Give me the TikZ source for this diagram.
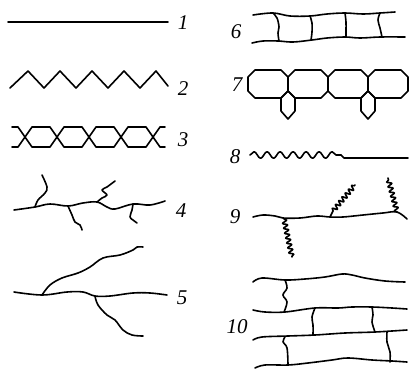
\documentclass[tikz,border=0pt]{standalone}
\usepackage{fontspec}
\setmainfont{Liberation Serif}
\usetikzlibrary{decorations.pathmorphing}
\begin{document}
\begin{tikzpicture}[x=1pt,y=-1pt,
  ln/.style={line width=1.6pt,line join=round,line cap=round},
  sm/.style={ln,smooth,tension=0.6},
  lab/.style={font=\fontsize{21}{21}\selectfont\itshape,inner sep=0pt},
  snk/.style={ln,decorate,decoration={snake,segment length=5pt,amplitude=2.3pt}},
  wav/.style={ln,decorate,decoration={snake,segment length=13pt,amplitude=3.3pt}}]
\useasboundingbox (0,0) rectangle (410,370);
% 1
\draw[ln] (8,22) -- (168,22);
\node[lab] (l1) at (183,23) {1};
% 2
\draw[ln] (10,88) -- (28,71) -- (44,88) -- (60,71) -- (76,88) -- (92,71) -- (108,88) -- (124,71) -- (140,88) -- (156,71) -- (168,86);
\node[lab] (l2) at (183,89) {2};
% 3
\draw[ln] (12,127) -- (18,127) -- (32,147) -- (50,147) -- (64,127) -- (82,127) -- (96,147) -- (114,147) -- (128,127) -- (146,127) -- (160,147) -- (165,147);
\draw[ln] (12,147) -- (18,147) -- (32,127) -- (50,127) -- (64,147) -- (82,147) -- (96,127) -- (114,127) -- (128,147) -- (146,147) -- (160,127) -- (165,127);
\node[lab] (l3) at (183,140) {3};
% 4
\draw[sm] plot coordinates {(14,210) (35,207) (50,204) (68,206) (83,203) (97,202) (107,207) (115,209) (133,204) (150,205) (165,201)};
\draw[sm] plot coordinates {(35,207) (38,200) (45,193) (47,187) (42,175)};
\draw[sm] plot coordinates {(68,206) (72,215) (75,222) (80,225) (82,230)};
\draw[sm] plot coordinates {(97,202) (102,198) (107,195) (102,190) (107,187) (115,181)};
\draw[sm] plot coordinates {(133,204) (132,210) (130,217) (133,220) (137,223)};
\node[lab] (l4) at (181,211) {4};
% 5
\draw[sm] plot coordinates {(14,292) (42,295) (67,292) (83,292) (95,296) (110,296) (133,293) (150,293) (167,295)};
\draw[sm] plot coordinates {(42,295) (50,285) (62,278) (78,273) (90,267) (103,258) (120,255) (133,250) (137,247) (143,247)};
\draw[sm] plot coordinates {(95,296) (98,305) (107,315) (115,320) (123,330) (132,335) (143,336)};
\node[lab] (l5) at (182,298) {5};
% 6
\draw[sm] plot coordinates {(253,15) (273,13) (290,16) (310,16) (327,14) (345,13) (363,14) (380,13) (395,12)};
\draw[sm] plot coordinates {(252,43) (263,41) (278,41) (293,42) (312,40) (327,38) (345,37) (360,38) (380,37) (405,37)};
\draw[sm] plot coordinates {(273,13) (277,18) (279,27) (278,33) (279,41)};
\draw[sm] plot coordinates {(310,16) (312,23) (312,32) (311,40)};
\draw[sm] plot coordinates {(345,13) (346,22) (346,30) (346,37)};
\draw[sm] plot coordinates {(380,13) (378,20) (380,28) (382,37)};
\node[lab] (l6) at (236,32) {6};
% 7
\foreach \x in {248,288,328,368}{
  \draw[ln] (\x+7,70) -- (\x+33,70) -- (\x+40,77) -- (\x+40,91) -- (\x+33,98) -- (\x+7,98) -- (\x,91) -- (\x,77) -- cycle;
}
\foreach \x in {288,368}{
  \draw[ln] (\x,91) -- (\x-7,98) -- (\x-7,111) -- (\x,119) -- (\x+7,111) -- (\x+7,98) -- cycle;
}
\node[lab] (l7) at (237,85) {7};
% 8
\draw[wav] (250,155) -- (341,155);
\draw[ln] (341,155) -- (344,158) -- (408,158);
\node[lab] (l8) at (235,157) {8};
% 9
\draw[sm] plot coordinates {(253,217) (263,215) (275,216) (283,218) (300,218) (317,216) (330,217) (343,217) (363,215) (383,213) (397,212) (407,219)};
\draw[snk] (284,219) -- (292,257);
\draw[ln] (330,217) -- (333,211);
\draw[snk] (333,211) -- (355,185);
\draw[snk] (397,212) -- (388,178);
\node[lab] (l9) at (235,217) {9};
% 10
\draw[sm] plot coordinates {(253,282) (262,278) (285,280) (305,279) (325,277) (342,274) (352,275) (365,278) (385,281) (405,282)};
\draw[sm] plot coordinates {(253,310) (265,312) (285,312) (315,308) (338,308) (352,307) (372,307) (392,308) (407,309)};
\draw[sm] plot coordinates {(253,340) (262,337) (288,336) (315,335) (345,333) (375,332) (407,330)};
\draw[sm] plot coordinates {(255,368) (265,365) (288,365) (308,363) (332,360) (348,358) (372,360) (392,361) (407,362)};
\draw[sm] plot coordinates {(285,280) (287,288) (283,295) (287,302) (284,312)};
\draw[sm] plot coordinates {(315,308) (312,317) (313,325) (313,335)};
\draw[sm] plot coordinates {(372,307) (373,315) (372,322) (375,332)};
\draw[sm] plot coordinates {(285,337) (283,342) (287,348) (288,365)};
\draw[sm] plot coordinates {(387,332) (387,342) (390,352) (390,362)};
\node[lab] (l10) at (237,327) {10};
\end{tikzpicture}
\end{document}
